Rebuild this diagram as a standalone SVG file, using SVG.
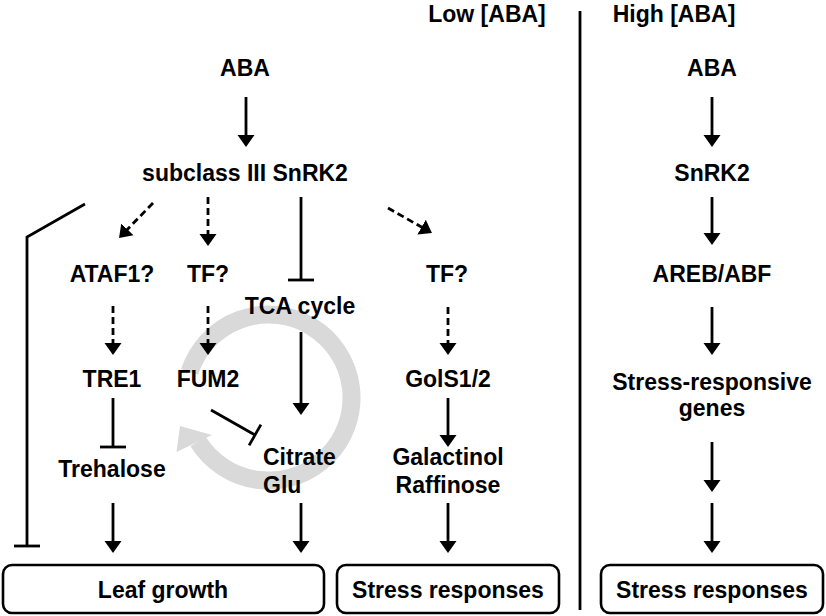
<svg xmlns="http://www.w3.org/2000/svg" width="826" height="616" viewBox="0 0 826 616">
<defs>
<style>
text{font-family:"Liberation Sans",Arial,sans-serif;font-weight:bold;font-size:23px;fill:#000;text-anchor:middle}
.ln{stroke:#000;stroke-width:2.8;fill:none}
.ar{marker-end:url(#ah)}
.da{stroke-dasharray:7 4}
.box{fill:#fff;stroke:#000;stroke-width:2.6}
</style>
<marker id="ah" markerUnits="userSpaceOnUse" markerWidth="14" markerHeight="18" refX="2" refY="8.5" orient="auto" viewBox="0 0 14 17">
<path d="M0,0 L12,8.5 L0,17 Z" fill="#000"/>
</marker>
</defs>
<rect width="826" height="616" fill="#fff"/>

<g id="tca-ring">
<path d="M189.6,371.9 A83,83 0 1 1 198.1,441.5" fill="none" stroke="#d9d9d9" stroke-width="18"/>
<polygon points="180,426 176.5,452 212,435" fill="#d9d9d9"/>
</g>

<g id="headers">
<text x="487" y="22">Low [ABA]</text>
<text x="674" y="22">High [ABA]</text>
</g>

<g id="connectors">
<line class="ln" x1="580" y1="11" x2="580" y2="610"/>
<line class="ln ar" x1="246" y1="97" x2="246" y2="137"/>
<polyline class="ln" points="85,204 27,237 27,546"/>
<line class="ln" x1="14" y1="546" x2="40" y2="546"/>
<line class="ln ar da" x1="153" y1="203" x2="126" y2="230.8"/>
<line class="ln ar da" x1="208" y1="197" x2="208" y2="236"/>
<line class="ln" x1="301" y1="197" x2="301" y2="280"/>
<line class="ln" x1="288" y1="280" x2="314" y2="280"/>
<line class="ln ar da" x1="388" y1="208" x2="423.3" y2="228.1"/>
<line class="ln ar da" x1="113" y1="306" x2="113" y2="345"/>
<line class="ln ar da" x1="208" y1="306" x2="208" y2="345"/>
<line class="ln ar" x1="301" y1="332" x2="301" y2="405"/>
<line class="ln ar da" x1="448" y1="307" x2="448" y2="345"/>
<line class="ln" x1="113" y1="398" x2="113" y2="447"/>
<line class="ln" x1="100" y1="447" x2="126" y2="447"/>
<line class="ln" x1="211" y1="410" x2="255" y2="435"/>
<line class="ln" x1="249.1" y1="445.4" x2="260.9" y2="424.6"/>
<line class="ln ar" x1="448" y1="398" x2="448" y2="437"/>
<line class="ln ar" x1="113" y1="503" x2="113" y2="543"/>
<line class="ln ar" x1="301" y1="503" x2="301" y2="543"/>
<line class="ln ar" x1="448" y1="503" x2="448" y2="543"/>
<line class="ln ar" x1="712" y1="97" x2="712" y2="137"/>
<line class="ln ar" x1="712" y1="197" x2="712" y2="235"/>
<line class="ln ar" x1="712" y1="307" x2="712" y2="345"/>
<line class="ln ar" x1="712" y1="442" x2="712" y2="482"/>
<line class="ln ar" x1="712" y1="503" x2="712" y2="543"/>
</g>

<g id="aba-low"><text x="245" y="76">ABA</text></g>
<g id="snrk2-low"><text x="245" y="181">subclass III SnRK2</text></g>
<g id="ataf1"><text x="112" y="282">ATAF1?</text></g>
<g id="tf1"><text x="208" y="282">TF?</text></g>
<g id="tf2"><text x="447" y="282">TF?</text></g>
<g id="tca"><text x="300" y="314">TCA cycle</text></g>
<g id="tre1"><text x="112" y="387">TRE1</text></g>
<g id="fum2"><text x="208" y="387">FUM2</text></g>
<g id="gols"><text x="448" y="387">GolS1/2</text></g>
<g id="trehalose"><text x="112" y="477">Trehalose</text></g>
<g id="citrate"><text x="263" y="465" style="text-anchor:start">Citrate</text><text x="263" y="493" style="text-anchor:start">Glu</text></g>
<g id="galactinol"><text x="448" y="465">Galactinol</text><text x="448" y="493">Raffinose</text></g>
<g id="leaf-growth"><rect class="box" x="3" y="565" width="321" height="48" rx="9"/><text x="163" y="598">Leaf growth</text></g>
<g id="stress-low"><rect class="box" x="337" y="565" width="222" height="48" rx="9"/><text x="448" y="598">Stress responses</text></g>

<g id="aba-high"><text x="712" y="76">ABA</text></g>
<g id="snrk2-high"><text x="712" y="181">SnRK2</text></g>
<g id="areb"><text x="712" y="282">AREB/ABF</text></g>
<g id="genes"><text x="712" y="390">Stress-responsive</text><text x="712" y="416">genes</text></g>
<g id="stress-high"><rect class="box" x="601" y="565" width="222" height="48" rx="9"/><text x="712" y="598">Stress responses</text></g>
</svg>
